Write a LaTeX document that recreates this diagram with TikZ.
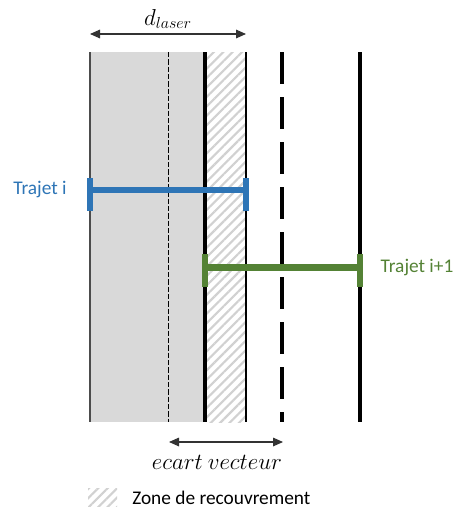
\documentclass[tikz,border=0pt]{standalone}
\usepackage{fontspec}
\setmainfont{Carlito}
\usetikzlibrary{arrows.meta, patterns.meta}

\definecolor{trajblue}{HTML}{2E75B6}
\definecolor{trajgreen}{HTML}{548235}
\definecolor{bandgray}{HTML}{D9D9D9}

\begin{document}
\begin{tikzpicture}[x=0.75pt, y=-0.75pt,
      band/.style={fill=bandgray},
      hatch/.style={pattern={Lines[angle=45, distance=5pt, line width=1.6pt]},
                    pattern color=black!18},
      edge/.style={draw=black!70, line width=0.8pt},
      midline/.style={draw=black, line width=0.6pt,
                      dash pattern=on 4pt off 1.5pt},
      thickline/.style={draw=black, line width=3pt},
      gapline/.style={thickline, dash pattern=on 24pt off 9.75pt},
      dim/.style={draw=black!80, line width=0.8pt,
                  {Triangle[length=7.5pt,width=6.5pt]}-{Triangle[length=7.5pt,width=6.5pt]}},
      trajbar/.style={draw=#1, line width=5pt},
      trajcap/.style={draw=#1, line width=4.5pt},
      lbl/.style={font=\fontsize{14.5}{17}\selectfont, inner sep=0pt},
      mathlbl/.style={font=\fontsize{16.5}{19}\selectfont, inner sep=0pt},
    ]
    \useasboundingbox (0,0) rectangle (456,511);

    % ---- laser band and lines --------------------------------------
    \fill[band] (90,52) rectangle (205,422);
    \fill[hatch] (205,52) rectangle (246,422);
    \draw[edge] (90,52) -- (90,422);
    \draw[midline] (168,52) -- (168,422);
    \draw[edge, draw=black] (246,52) -- (246,422);
    \draw[thickline] (205,52) -- (205,422);
    \draw[gapline] (282,52) -- (282,422);
    \draw[thickline] (360,52) -- (360,422);

    % ---- dimensions ------------------------------------------------
    \coordinate (dl-a) at (90,34);
    \coordinate (dl-b) at (246,34);
    \draw[dim] (dl-a) -- (dl-b);
    \node[mathlbl] (dl-lab) at (168,19) {$d_{laser}$};

    \coordinate (ev-a) at (169,442);
    \coordinate (ev-b) at (283,442);
    \draw[dim] (ev-a) -- (ev-b);
    \node[mathlbl] (ev-lab) at (217,462) {$ecart\ vecteur$};

    % ---- trajets ---------------------------------------------------
    \coordinate (ti-l) at (90,190);
    \coordinate (ti-r) at (246,190);
    \draw[trajbar=trajblue] (ti-l) -- (ti-r);
    \draw[trajcap=trajblue] (ti-l) +(0,-12) -- +(0,21);
    \draw[trajcap=trajblue] (ti-r) +(0,-12) -- +(0,21);
    \node[lbl, text=trajblue] (ti-lab) at (40,190) {Trajet i};

    \coordinate (tj-l) at (205,267.5);
    \coordinate (tj-r) at (360,267.5);
    \draw[trajbar=trajgreen] (tj-l) -- (tj-r);
    \draw[trajcap=trajgreen] (tj-l) +(0,-13.5) -- +(0,19.5);
    \draw[trajcap=trajgreen] (tj-r) +(0,-13.5) -- +(0,19.5);
    \node[lbl, text=trajgreen] (tj-lab) at (417,268) {Trajet i+1};

    % ---- legend ----------------------------------------------------
    \fill[hatch] (88,488) rectangle (117,506);
    \node[lbl, anchor=west] (leg) at (132,498) {Zone de recouvrement};

\end{tikzpicture}
\end{document}
